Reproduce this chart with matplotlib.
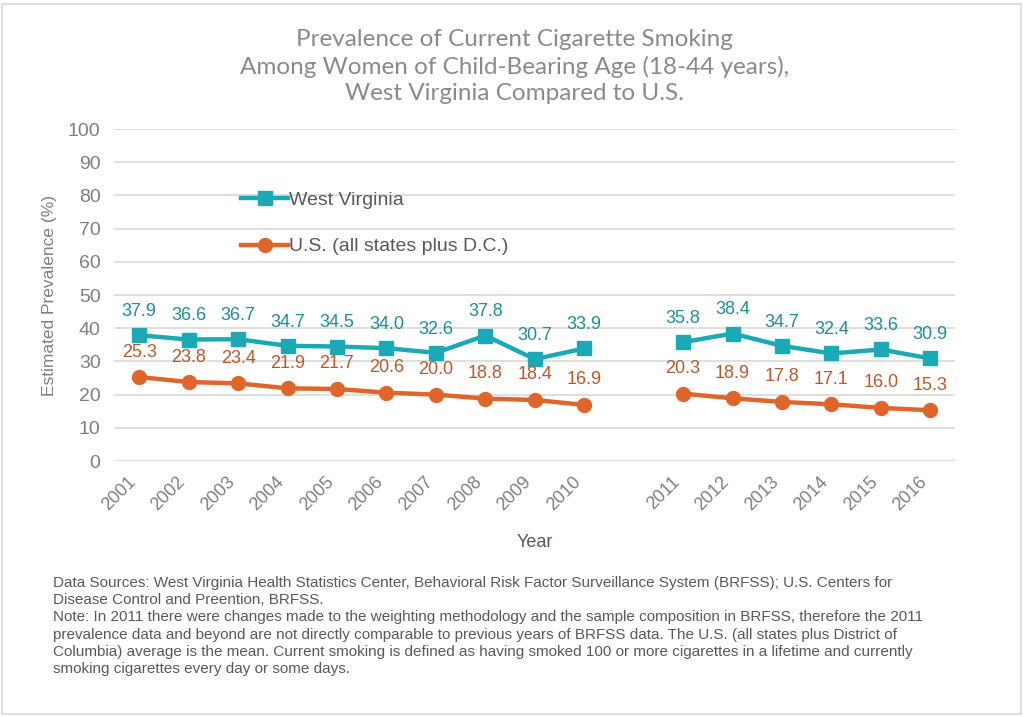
import numpy as np
import matplotlib.pyplot as plt
from matplotlib.patches import Rectangle

# Datos (hueco entre 2010 y 2011)
years = ['2001', '2002', '2003', '2004', '2005', '2006', '2007', '2008', '2009', '2010',
         '', '2011', '2012', '2013', '2014', '2015', '2016']
wv = [37.9, 36.6, 36.7, 34.7, 34.5, 34.0, 32.6, 37.8, 30.7, 33.9,
      np.nan, 35.8, 38.4, 34.7, 32.4, 33.6, 30.9]
us = [25.3, 23.8, 23.4, 21.9, 21.7, 20.6, 20.0, 18.8, 18.4, 16.9,
      np.nan, 20.3, 18.9, 17.8, 17.1, 16.0, 15.3]

title = ('Prevalence of Current Cigarette Smoking\n'
         'Among Women of Child-Bearing Age (18-44 years),\n'
         'West Virginia Compared to U.S.')
note = ('Data Sources: West Virginia Health Statistics Center, Behavioral Risk Factor Surveillance System (BRFSS); U.S. Centers for\n'
        'Disease Control and Preention, BRFSS.\n'
        'Note: In 2011 there were changes made to the weighting methodology and the sample composition in BRFSS, therefore the 2011\n'
        'prevalence data and beyond are not directly comparable to previous years of BRFSS data. The U.S. (all states plus District of\n'
        'Columbia) average is the mean. Current smoking is defined as having smoked 100 or more cigarettes in a lifetime and currently\n'
        'smoking cigarettes every day or some days.')

teal = '#1BA9B5'
teal_txt = '#1E8E98'
orange = '#E0652B'
orange_txt = '#B65A2E'
gray = '#7F7F7F'

plt.rcParams['font.family'] = ['Liberation Sans', 'DejaVu Sans']

fig = plt.figure(figsize=(10.25, 7.17), dpi=100)
ax = fig.add_axes([0.1117, 0.357, 0.82, 0.463])

x = np.arange(len(years))
ax.plot(x, wv, color=teal, lw=3.2, marker='s', markersize=10, label='West Virginia')
ax.plot(x, us, color=orange, lw=3.2, marker='o', markersize=10, label='U.S. (all states plus D.C.)')

for xi, v in zip(x, wv):
    if not np.isnan(v):
        ax.annotate(f'{v:.1f}', (xi, v), xytext=(0, 17), textcoords='offset points',
                    ha='center', va='center', fontsize=13, color=teal_txt)
for xi, v in zip(x, us):
    if not np.isnan(v):
        ax.annotate(f'{v:.1f}', (xi, v), xytext=(0, 18), textcoords='offset points',
                    ha='center', va='center', fontsize=13, color=orange_txt)

ax.set_xlim(-0.5, len(years) - 0.5)
ax.set_ylim(0, 100)
ax.set_yticks(np.arange(0, 101, 10))
ax.set_xticks(x)
ax.set_xticklabels(years, rotation=45, ha='right', fontsize=13, color=gray)
ax.tick_params(axis='y', labelsize=14, labelcolor=gray, length=0, pad=10)
ax.tick_params(axis='x', length=0, pad=9)
ax.grid(axis='y', color='#D9D9D9', lw=1.2)
ax.set_axisbelow(True)
for s in ax.spines.values():
    s.set_visible(False)

ax.set_xlabel('Year', fontsize=13, color='#595959', labelpad=14)
ax.set_ylabel('Estimated Prevalence (%)', fontsize=12.5, color=gray, labelpad=8)

leg = ax.legend(loc='upper left', bbox_to_anchor=(0.13, 0.866), frameon=False,
                fontsize=14, handlelength=2.4, handletextpad=0.05, labelspacing=1.5)
for t in leg.get_texts():
    t.set_color('#595959')

fig.text(0.502, 0.96, title, ha='center', va='top', fontsize=17.5, color='#8A8A8A',
         linespacing=1.33, family=['Lato', 'DejaVu Sans'])

fig.text(0.052, 0.197, note, ha='left', va='top', fontsize=11, color='#595959',
         linespacing=1.3, family=['Liberation Sans Narrow', 'Liberation Sans'])

fig.patches.append(Rectangle((0.002, 0.004), 0.994, 0.99, transform=fig.transFigure,
                             fill=False, edgecolor='#D9D9D9', lw=1.2))

plt.savefig('out.png', dpi=100)
